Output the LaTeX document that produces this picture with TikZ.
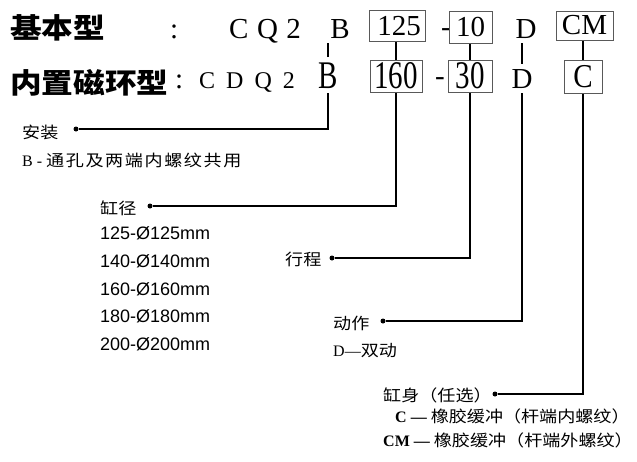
\documentclass[tikz,border=0pt]{standalone}
\usepackage{fontspec}
\usepackage{graphicx}
\setmainfont{Liberation Serif}
\newfontfamily\headcjk[FakeStretch=1.13]{Noto Sans CJK SC}
\newfontfamily\notecjk[FakeStretch=1.13]{Noto Sans CJK SC}
\newfontfamily\sizefont{Liberation Sans}
\newcommand\upstretch[2]{\scalebox{1}[#1]{#2}}

\begin{document}
\begin{tikzpicture}[x=1pt,y=-1pt,
    headtxt/.style={font=\headcjk\bfseries\fontsize{28}{30}\selectfont, anchor=base west, inner sep=0pt},
    codetxt/.style={font=\fontsize{29}{31}\selectfont, inner sep=5pt},
    codesmall/.style={font=\fontsize{24}{26}\selectfont, anchor=base west, inner sep=0pt},
    optbox/.style={draw=black!65, line width=1pt, font=\fontsize{29}{31}\selectfont, inner sep=0pt},
    notetxt/.style={font=\notecjk\fontsize{16}{18}\selectfont, anchor=base west, inner sep=0pt},
    sizetxt/.style={font=\sizefont\fontsize{18}{20}\selectfont, anchor=base west, inner sep=0pt},
    dot/.style={circle, fill, inner sep=0pt, minimum size=5pt},
    leader/.style={line width=1.1pt}]
    \useasboundingbox (0,0) rectangle (637,461);

    \node[headtxt] (basic) at (10,38) {基本型};
    \node[codetxt, anchor=base west, inner sep=0pt] (colon1) at (170,38) {:};
    \node[codetxt, anchor=base west, inner sep=0pt] (series1) at (229,38) {C\hspace{8.5pt}Q\hspace{8.5pt}2};
    \node[codetxt, anchor=base] (mount1) at (340,38) {B};
    \node[optbox, minimum width=56pt, minimum height=31pt] (bore1) at (397,26) {\hspace{4pt}125};
    \node[codetxt, anchor=base, inner sep=0pt] (dash1) at (446,36) {-};
    \node[optbox, minimum width=43pt, minimum height=32pt] (stroke1) at (470.5,27) {10};
    \node[codetxt, anchor=base] (act1) at (526,38) {D};
    \node[optbox, minimum width=57pt, minimum height=29pt] (body1) at (584.5,25.5) {CM};

    \node[headtxt] (magnet) at (10,93) {内置磁环型};
    \node[codetxt, anchor=base west, inner sep=0pt] (colon2) at (175,88) {:};
    \node[codesmall] (series2) at (199,88) {C\hspace{11pt}D\hspace{11pt}Q\hspace{11pt}2};
    \node[codetxt, anchor=base] (mount2) at (328,88) {\upstretch{1.35}{B}};
    \node[optbox, minimum width=52pt, minimum height=32pt] (bore2) at (396,76) {\upstretch{1.35}{160}};
    \node[codetxt, anchor=base, inner sep=0pt] (dash2) at (440,85) {-};
    \node[optbox, minimum width=44pt, minimum height=32pt] (stroke2) at (470,76) {\upstretch{1.35}{30}};
    \node[codetxt, anchor=base] (act2) at (522,88) {D};
    \node[optbox, minimum width=38pt, minimum height=33pt] (body2) at (583,76.5) {\upstretch{1.15}{C}};

    \draw[leader] (mount2.north) -- (mount2.north |- mount1.south);
    \draw[leader] (bore2.north) -- (bore2.north |- bore1.south);
    \draw[leader] (stroke2.north) -- (stroke2.north |- stroke1.south);
    \draw[leader] (act2.north) -- (act2.north |- act1.south);
    \draw[leader] (body2.north) -- (body2.north |- body1.south);

    \node[dot] (mountdot) at (76,129) {};
    \node[notetxt] (mountlbl) at (22,138) {安装};
    \node[notetxt] (mountopt) at (22,166) {{\rmfamily B - }\addfontfeature{LetterSpace=10}通孔及两端内螺纹共用};
    \draw[leader] (mountdot) -| (mount2.south);

    \node[dot] (boredot) at (150,206) {};
    \node[notetxt] (borelbl) at (100,214) {缸径};
    \foreach \d [count=\i] in {125,140,160,180,200}
        \node[sizetxt] (size\d) at (100,{239.5+27.8*(\i-1)}) {\d-Ø\d mm};
    \draw[leader] (boredot) -| (bore2.south);

    \node[dot] (strokedot) at (332,258) {};
    \node[notetxt] (strokelbl) at (285,265) {行程};
    \draw[leader] (strokedot) -| (stroke2.south);

    \node[dot] (actdot) at (383,321) {};
    \node[notetxt] (actlbl) at (333,329) {动作};
    \node[notetxt] (actopt) at (333,356) {{\rmfamily D—}双动};
    \draw[leader] (actdot) -| (act2.south);

    \node[dot] (bodydot) at (495,394) {};
    \node[notetxt] (bodylbl) at (383,401) {缸身（任选）};
    \node[notetxt] (bodyc) at (395,422) {{\rmfamily\bfseries C — }橡胶缓冲（杆端内螺纹）};
    \node[notetxt] (bodycm) at (383,446) {{\rmfamily\bfseries CM — }橡胶缓冲（杆端外螺纹）};
    \draw[leader] (bodydot) -| (body2.south);
\end{tikzpicture}
\end{document}
